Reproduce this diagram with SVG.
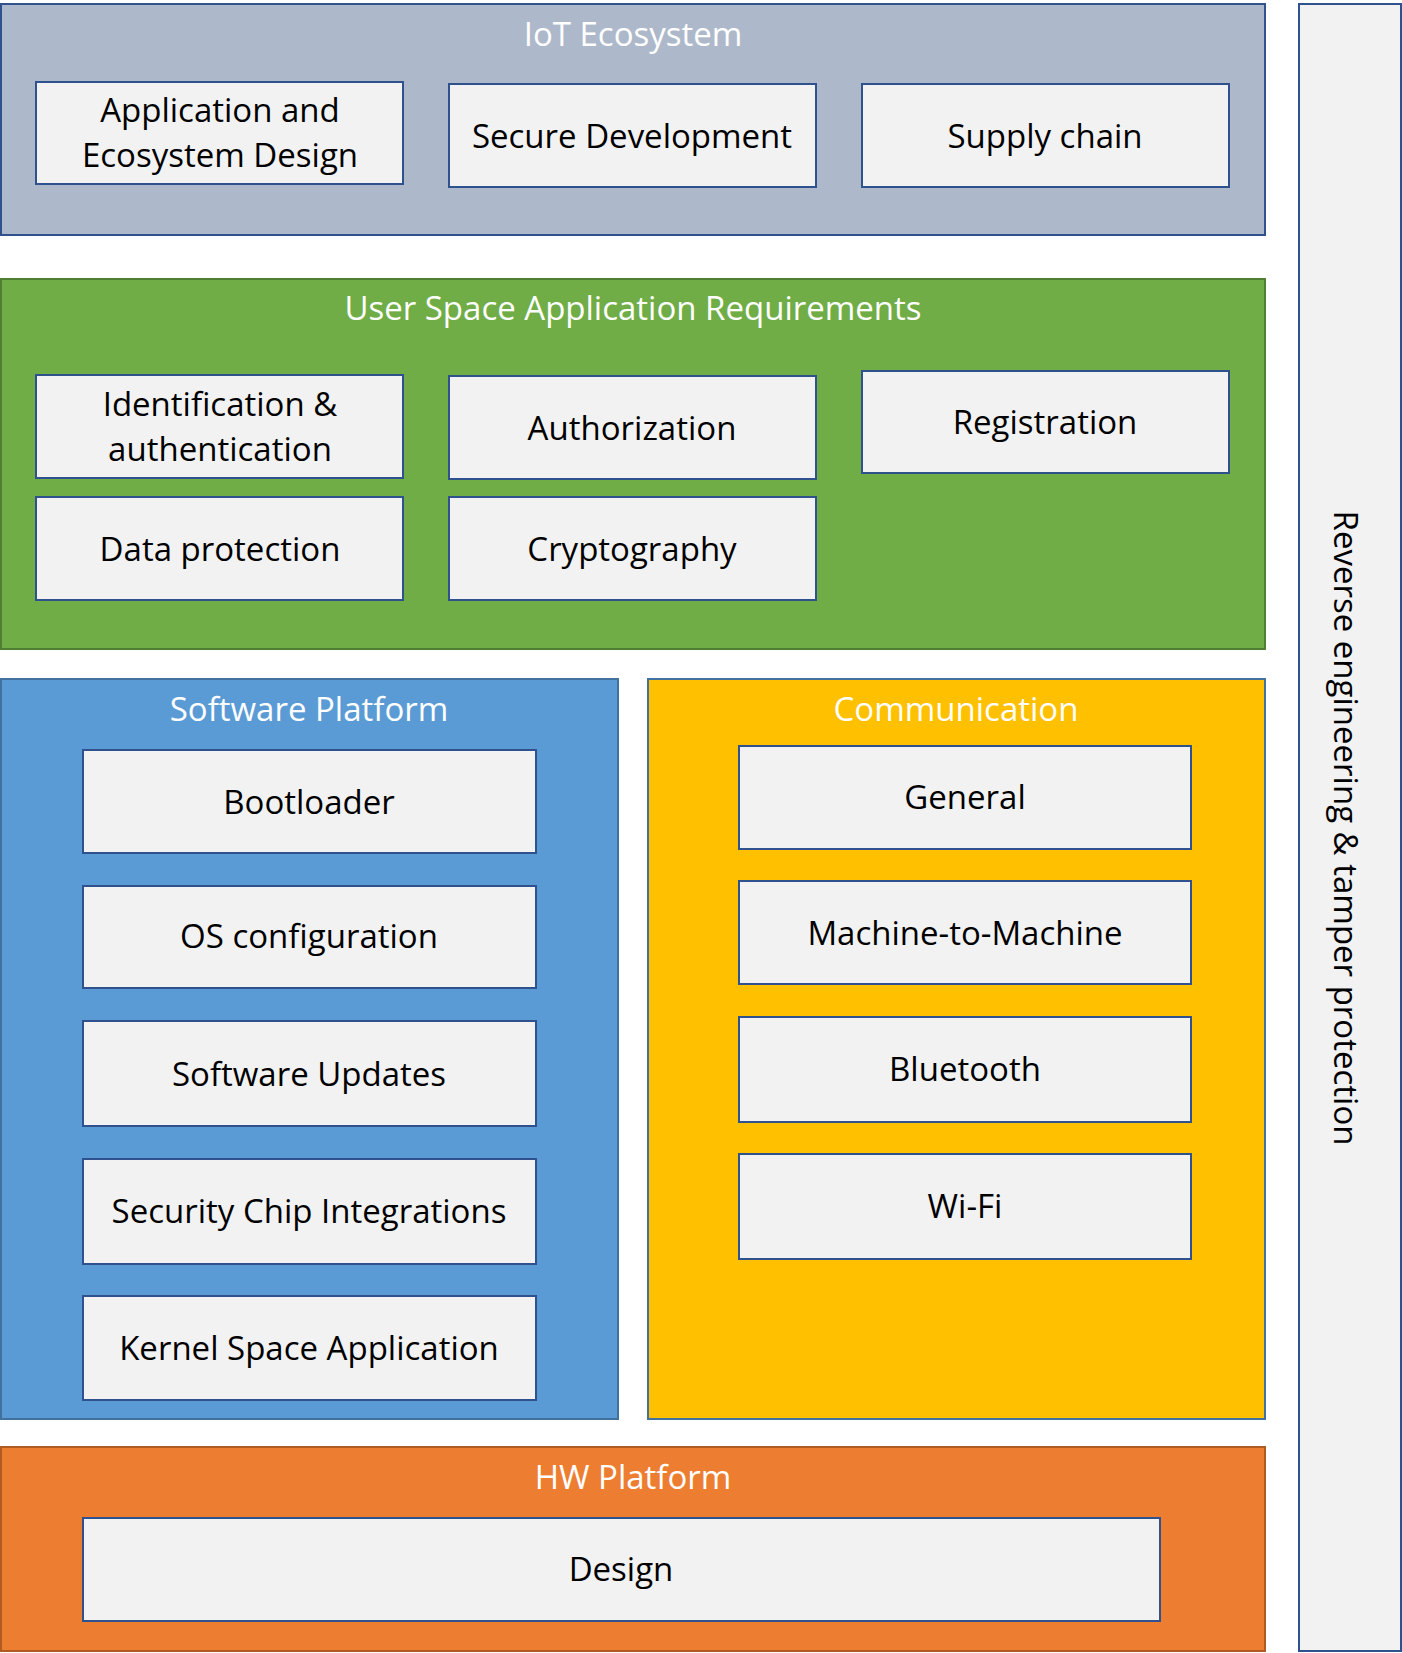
<svg xmlns="http://www.w3.org/2000/svg" width="1402" height="1653" viewBox="0 0 1402 1653">
<style>
.box{fill:#F2F2F2;stroke:#2F528F;stroke-width:2}
.lbl{font-family:"Open Sans","Liberation Sans",sans-serif;font-size:33px;fill:#000;text-anchor:middle}
.ttl{font-family:"Open Sans","Liberation Sans",sans-serif;font-size:33px;fill:#fff;text-anchor:middle}
</style>
<rect width="1402" height="1653" fill="#fff"/>
<g id="iot-ecosystem">
<rect x="1" y="4" width="1264" height="231" fill="#ADB9CA" stroke="#2F528F" stroke-width="2"/>
<text class="ttl" x="633" y="46">IoT Ecosystem</text>
</g>
<g id="app-ecosystem-design">
<rect class="box" x="36" y="82" width="367" height="102"/>
<text class="lbl" x="220" y="122">Application and</text>
<text class="lbl" x="220" y="167">Ecosystem Design</text>
</g>
<g id="secure-development">
<rect class="box" x="449" y="84" width="367" height="103"/>
<text class="lbl" x="632" y="148">Secure Development</text>
</g>
<g id="supply-chain">
<rect class="box" x="862" y="84" width="367" height="103"/>
<text class="lbl" x="1045" y="148">Supply chain</text>
</g>
<g id="user-space">
<rect x="1" y="279" width="1264" height="370" fill="#70AD47" stroke="#507E32" stroke-width="2"/>
<text class="ttl" x="633" y="320">User Space Application Requirements</text>
</g>
<g id="identification">
<rect class="box" x="36" y="375" width="367" height="103"/>
<text class="lbl" x="220" y="416">Identification &amp;</text>
<text class="lbl" x="220" y="461">authentication</text>
</g>
<g id="authorization">
<rect class="box" x="449" y="376" width="367" height="103"/>
<text class="lbl" x="632" y="440">Authorization</text>
</g>
<g id="registration">
<rect class="box" x="862" y="371" width="367" height="102"/>
<text class="lbl" x="1045" y="434">Registration</text>
</g>
<g id="data-protection">
<rect class="box" x="36" y="497" width="367" height="103"/>
<text class="lbl" x="220" y="561">Data protection</text>
</g>
<g id="cryptography">
<rect class="box" x="449" y="497" width="367" height="103"/>
<text class="lbl" x="632" y="561">Cryptography</text>
</g>
<g id="software-platform">
<rect x="1" y="679" width="617" height="740" fill="#5B9BD5" stroke="#41719C" stroke-width="2"/>
<text class="ttl" x="309" y="721">Software Platform</text>
</g>
<g id="bootloader">
<rect class="box" x="83" y="750" width="453" height="103"/>
<text class="lbl" x="309" y="814">Bootloader</text>
</g>
<g id="os-configuration">
<rect class="box" x="83" y="886" width="453" height="102"/>
<text class="lbl" x="309" y="948">OS configuration</text>
</g>
<g id="software-updates">
<rect class="box" x="83" y="1021" width="453" height="105"/>
<text class="lbl" x="309" y="1086">Software Updates</text>
</g>
<g id="security-chip">
<rect class="box" x="83" y="1159" width="453" height="105"/>
<text class="lbl" x="309" y="1223">Security Chip Integrations</text>
</g>
<g id="kernel-space">
<rect class="box" x="83" y="1296" width="453" height="104"/>
<text class="lbl" x="309" y="1360">Kernel Space Application</text>
</g>
<g id="communication">
<rect x="648" y="679" width="617" height="740" fill="#FFC000" stroke="#41719C" stroke-width="2"/>
<text class="ttl" x="956" y="721">Communication</text>
</g>
<g id="general">
<rect class="box" x="739" y="746" width="452" height="103"/>
<text class="lbl" x="965" y="809">General</text>
</g>
<g id="m2m">
<rect class="box" x="739" y="881" width="452" height="103"/>
<text class="lbl" x="965" y="945">Machine-to-Machine</text>
</g>
<g id="bluetooth">
<rect class="box" x="739" y="1017" width="452" height="105"/>
<text class="lbl" x="965" y="1081">Bluetooth</text>
</g>
<g id="wifi">
<rect class="box" x="739" y="1154" width="452" height="105"/>
<text class="lbl" x="965" y="1218">Wi-Fi</text>
</g>
<g id="hw-platform">
<rect x="1" y="1447" width="1264" height="204" fill="#ED7D31" stroke="#AE5A21" stroke-width="2"/>
<text class="ttl" x="633" y="1489">HW Platform</text>
</g>
<g id="design">
<rect class="box" x="83" y="1518" width="1077" height="103"/>
<text class="lbl" x="621" y="1581">Design</text>
</g>
<g id="reverse-engineering">
<rect class="box" x="1299" y="4" width="102" height="1647"/>
<text class="lbl" transform="translate(1345,828) rotate(90)" x="0" y="11">Reverse engineering &amp; tamper protection</text>
</g>
<g id="connectors"></g>
</svg>
